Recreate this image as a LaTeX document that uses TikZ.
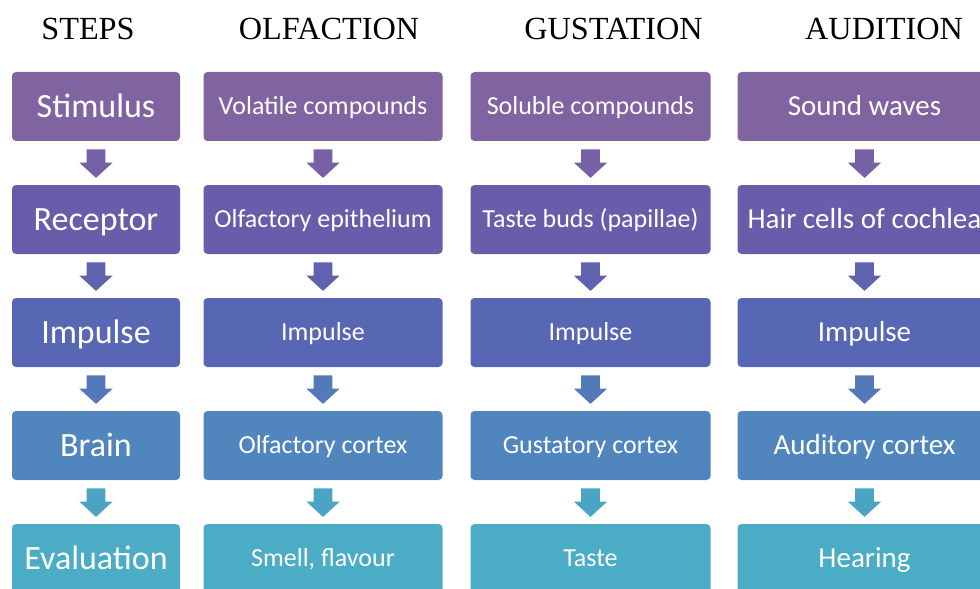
\documentclass[tikz,border=0pt]{standalone}
\usepackage{fontspec}
\setmainfont{Liberation Serif}
\newfontfamily\boxfont{Carlito}
\usetikzlibrary{shapes.arrows}

\definecolor{rowa}{HTML}{8064A2}
\definecolor{rowb}{HTML}{695DAB}
\definecolor{rowc}{HTML}{5767B4}
\definecolor{rowd}{HTML}{5085BD}
\definecolor{rowe}{HTML}{4BACC6}

\begin{document}
\begin{tikzpicture}[x=0.75pt,y=-0.75pt,
		heading/.style={anchor=base,font=\fontsize{24.2}{28}\selectfont},
		stage/.style={rounded corners=3pt,text=white,inner sep=0pt,minimum height=51.75pt,text depth=0pt},
		stepcol/.style={stage,minimum width=126pt,text height=16.4pt,font=\boxfont\fontsize{25.5}{30}\selectfont},
		olfcol/.style={stage,minimum width=179.25pt,text height=12.6pt,font=\boxfont\fontsize{19.5}{23}\selectfont},
		gustcol/.style={stage,minimum width=180pt,text height=12.6pt,font=\boxfont\fontsize{19.5}{23}\selectfont},
		audcol/.style={stage,minimum width=190.5pt,text height=14pt,font=\boxfont\fontsize{21.75}{26}\selectfont},
		downarrow/.style={single arrow,shape border rotate=270,inner sep=6.75pt,anchor=tail,
			minimum height=21.4pt,single arrow head extend=5.6pt,single arrow tip angle=95}
		]
		
		\clip (0,0) rectangle (980,588);
		
		% Column headings
		\node[heading] (hsteps) at (88,40) {STEPS};
		\node[heading] (holf) at (329,40) {OLFACTION};
		\node[heading] (hgust) at (613.5,40) {GUSTATION};
		\node[heading] (haud) at (884,40) {AUDITION};
		
		% Steps
		\node[stepcol,fill=rowa] (st1) at (96,106.5) {Stimulus};
		\node[stepcol,fill=rowb] (st2) at (96,219.5) {Receptor};
		\node[stepcol,fill=rowc] (st3) at (96,332.5) {Impulse};
		\node[stepcol,fill=rowd] (st4) at (96,445.5) {Brain};
		\node[stepcol,fill=rowe] (st5) at (96,558.5) {Evaluation};
		
		% Olfaction
		\node[olfcol,fill=rowa] (ol1) at (323,106.5) {Volatile compounds};
		\node[olfcol,fill=rowb] (ol2) at (323,219.5) {Olfactory epithelium};
		\node[olfcol,fill=rowc] (ol3) at (323,332.5) {Impulse};
		\node[olfcol,fill=rowd] (ol4) at (323,445.5) {Olfactory cortex};
		\node[olfcol,fill=rowe] (ol5) at (323,558.5) {Smell, flavour};
		
		% Gustation
		\node[gustcol,fill=rowa] (gu1) at (590.5,106.5) {Soluble compounds};
		\node[gustcol,fill=rowb] (gu2) at (590.5,219.5) {Taste buds (papillae)};
		\node[gustcol,fill=rowc] (gu3) at (590.5,332.5) {Impulse};
		\node[gustcol,fill=rowd] (gu4) at (590.5,445.5) {Gustatory cortex};
		\node[gustcol,fill=rowe] (gu5) at (590.5,558.5) {Taste};
		
		% Audition
		\node[audcol,fill=rowa] (au1) at (864.5,106.5) {Sound waves};
		\node[audcol,fill=rowb] (au2) at (864.5,219.5) {Hair cells of cochlea};
		\node[audcol,fill=rowc] (au3) at (864.5,332.5) {Impulse};
		\node[audcol,fill=rowd] (au4) at (864.5,445.5) {Auditory cortex};
		\node[audcol,fill=rowe] (au5) at (864.5,558.5) {Hearing};
		
		% Block arrows
		\path (st1) -- (st2) node[pos=0.18,downarrow,fill=rowa!60!rowb] {};
		\path (st2) -- (st3) node[pos=0.18,downarrow,fill=rowb!50!rowc] {};
		\path (st3) -- (st4) node[pos=0.18,downarrow,fill=rowc!40!rowd] {};
		\path (st4) -- (st5) node[pos=0.18,downarrow,fill=rowd!20!rowe] {};
		
		\path (ol1) -- (ol2) node[pos=0.18,downarrow,fill=rowa!60!rowb] {};
		\path (ol2) -- (ol3) node[pos=0.18,downarrow,fill=rowb!50!rowc] {};
		\path (ol3) -- (ol4) node[pos=0.18,downarrow,fill=rowc!40!rowd] {};
		\path (ol4) -- (ol5) node[pos=0.18,downarrow,fill=rowd!20!rowe] {};
		
		\path (gu1) -- (gu2) node[pos=0.18,downarrow,fill=rowa!60!rowb] {};
		\path (gu2) -- (gu3) node[pos=0.18,downarrow,fill=rowb!50!rowc] {};
		\path (gu3) -- (gu4) node[pos=0.18,downarrow,fill=rowc!40!rowd] {};
		\path (gu4) -- (gu5) node[pos=0.18,downarrow,fill=rowd!20!rowe] {};
		
		\path (au1) -- (au2) node[pos=0.18,downarrow,fill=rowa!60!rowb] {};
		\path (au2) -- (au3) node[pos=0.18,downarrow,fill=rowb!50!rowc] {};
		\path (au3) -- (au4) node[pos=0.18,downarrow,fill=rowc!40!rowd] {};
		\path (au4) -- (au5) node[pos=0.18,downarrow,fill=rowd!20!rowe] {};
		
	\end{tikzpicture}
\end{document}
